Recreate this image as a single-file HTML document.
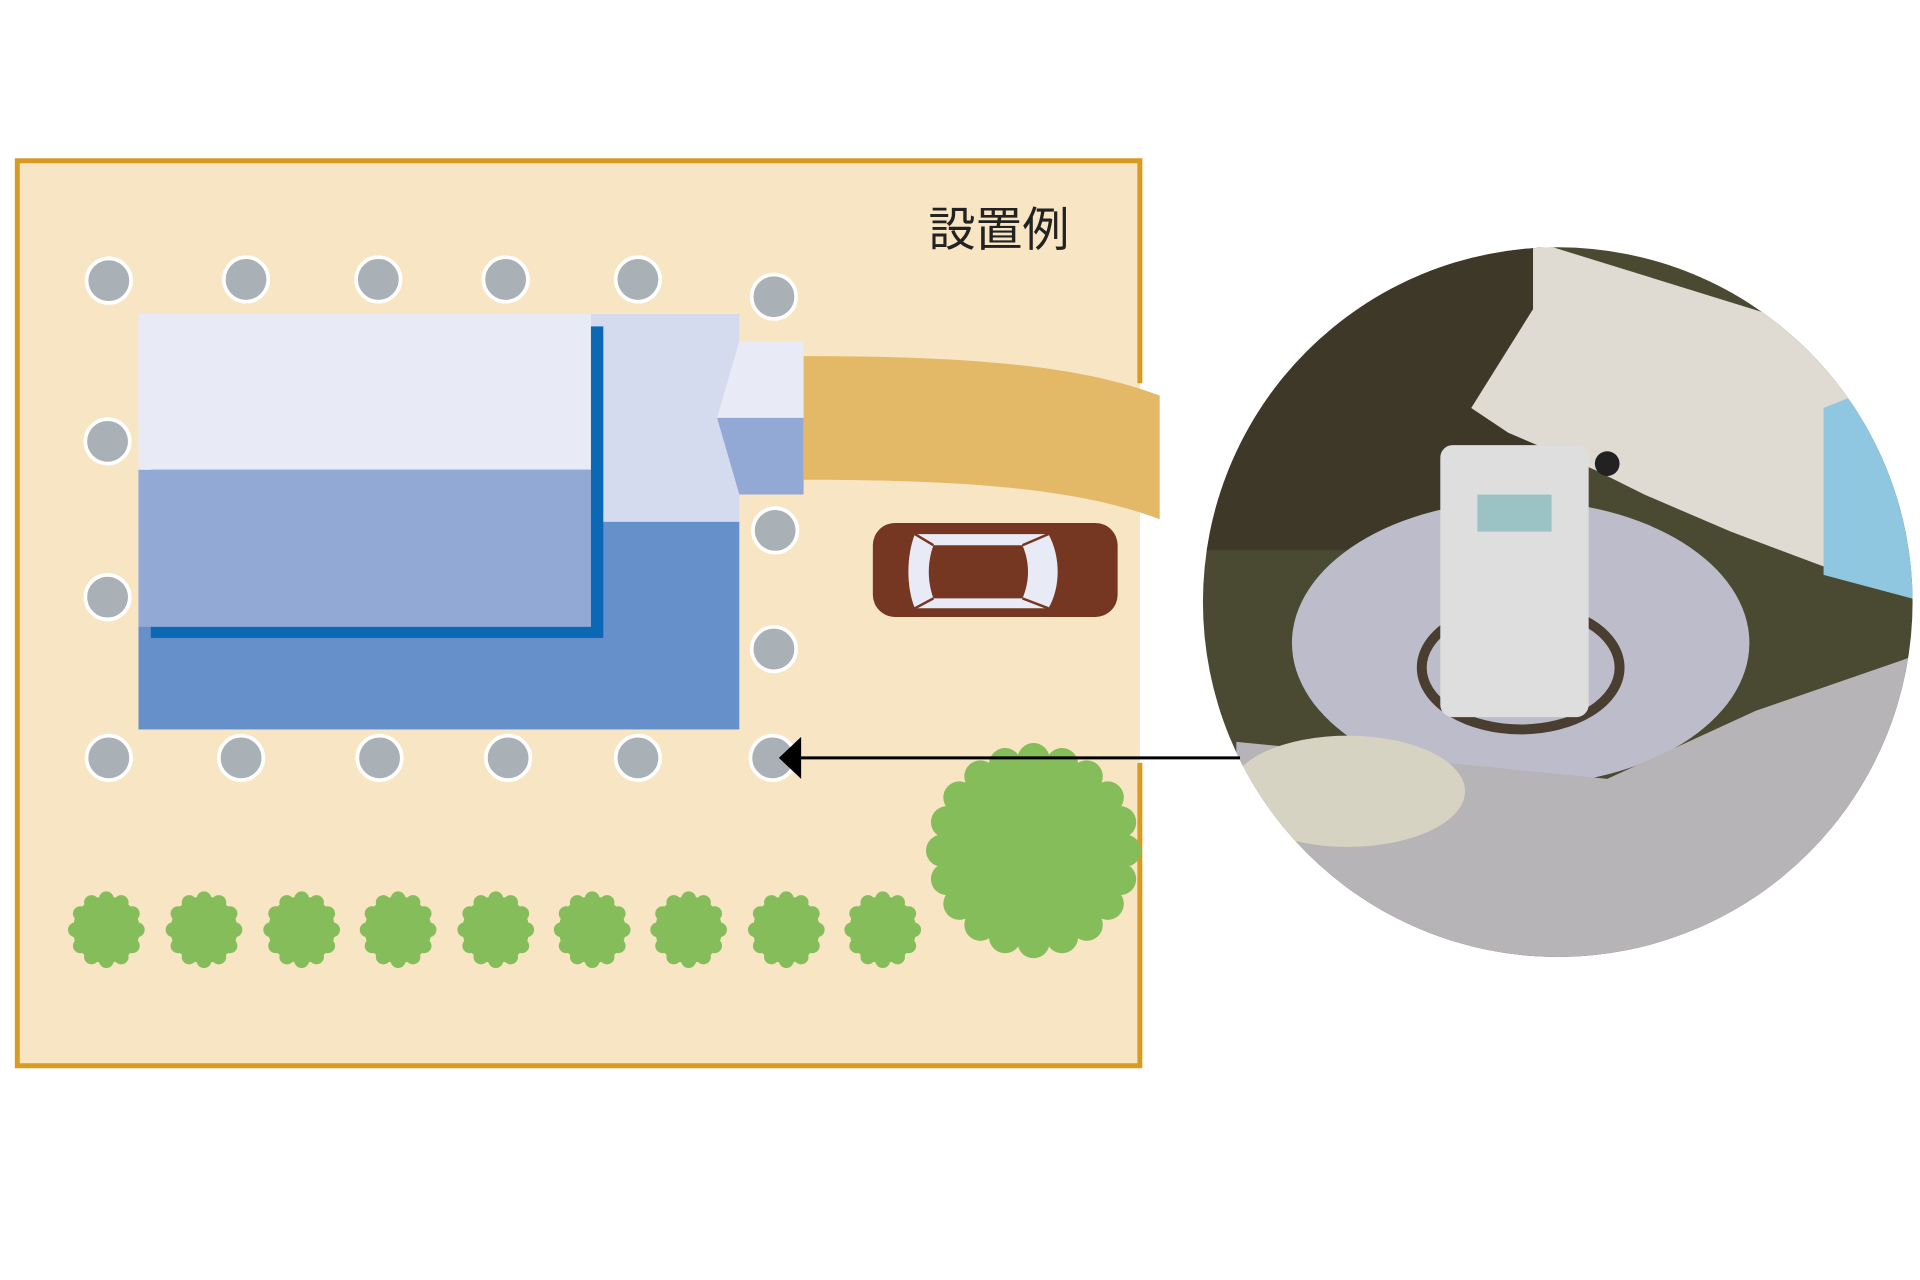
<!DOCTYPE html>
<html><head><meta charset="utf-8"><style>html,body{margin:0;padding:0;background:#fff}svg{display:block}</style></head>
<body>
<svg width="1920" height="1280" viewBox="0 0 1553 1035.3" preserveAspectRatio="none" xmlns="http://www.w3.org/2000/svg">
<defs>
<clipPath id="cp"><ellipse cx="1260" cy="487" rx="287" ry="287"/></clipPath>
<g id="st"><circle cx="0" cy="0" r="27"/><circle cx="0" cy="-25" r="6"/><circle cx="12" cy="-22" r="6"/><circle cx="21" cy="-13" r="6"/><circle cx="25" cy="0" r="6"/><circle cx="21" cy="13" r="6"/><circle cx="12" cy="22" r="6"/><circle cx="0" cy="25" r="6"/><circle cx="-12" cy="22" r="6"/><circle cx="-21" cy="13" r="6"/><circle cx="-25" cy="0" r="6"/><circle cx="-21" cy="-13" r="6"/><circle cx="-12" cy="-22" r="6"/></g>
</defs>
<rect x="14" y="130" width="908" height="732" fill="#f7e5c3"/>
<path d="M922,310 L922,130 L14,130 L14,862 L922,862 L922,617" fill="none" stroke="#d99a22" stroke-width="4"/>
<text x="751" y="199" font-family="'Noto Sans CJK JP',sans-serif" font-size="38" fill="#222">設置例</text>
<g fill="#a9b1b6" stroke="#fff" stroke-width="3">
<circle cx="88" cy="227" r="18"/><circle cx="199" cy="226" r="18"/><circle cx="306" cy="226" r="18"/><circle cx="409" cy="226" r="18"/><circle cx="516" cy="226" r="18"/><circle cx="626" cy="240" r="18"/>
<circle cx="87" cy="357" r="18"/><circle cx="87" cy="483" r="18"/><circle cx="627" cy="429" r="18"/><circle cx="626" cy="525" r="18"/>
<circle cx="88" cy="613" r="18"/><circle cx="195" cy="613" r="18"/><circle cx="307" cy="613" r="18"/><circle cx="411" cy="613" r="18"/><circle cx="516" cy="613" r="18"/><circle cx="625" cy="613" r="18"/>
</g>
<rect x="112" y="422" width="486" height="168" fill="#6690c9"/>
<rect x="478" y="254" width="120" height="168" fill="#d5dbee"/>
<rect x="122" y="264" width="366" height="252" fill="#0a68b4"/>
<rect x="112" y="254" width="366" height="126" fill="#e8ebf6"/>
<rect x="112" y="380" width="366" height="127" fill="#93a9d5"/>
<polygon points="598,276 650,276 650,338 580,338" fill="#e8ebf6"/>
<polygon points="580,338 650,338 650,400 598,400" fill="#93a9d5"/>
<path d="M650,288 C800,288 880,298 938,320 L938,420 C880,398 800,388 650,388 Z" fill="#e3b866"/>
<rect x="706" y="423" width="198" height="76" rx="18" fill="#763722"/>
<path d="M740,432 L848,432 C858,450 858,475 848,492 L740,492 C733,475 733,450 740,432 Z" fill="#e8ebf6"/>
<path d="M755,441 L827,441 C833,455 833,470 827,484 L755,484 C750,470 750,455 755,441 Z" fill="#763722"/>
<g stroke="#763722" stroke-width="2"><line x1="740" y1="432" x2="755" y2="441"/><line x1="848" y1="432" x2="827" y2="441"/><line x1="740" y1="492" x2="755" y2="484"/><line x1="848" y1="492" x2="827" y2="484"/></g>
<g fill="#84bd5a">
<use href="#st" x="86" y="752"/><use href="#st" x="165" y="752"/><use href="#st" x="244" y="752"/><use href="#st" x="322" y="752"/><use href="#st" x="401" y="752"/><use href="#st" x="479" y="752"/><use href="#st" x="557" y="752"/><use href="#st" x="636" y="752"/><use href="#st" x="714" y="752"/>
<g transform="translate(836,688)">
<circle r="76"/>
<circle cx="0" cy="-74" r="13"/><circle cx="23" cy="-70" r="13"/><circle cx="43" cy="-60" r="13"/><circle cx="60" cy="-43" r="13"/><circle cx="70" cy="-23" r="13"/><circle cx="74" cy="0" r="13"/><circle cx="70" cy="23" r="13"/><circle cx="60" cy="43" r="13"/><circle cx="43" cy="60" r="13"/><circle cx="23" cy="70" r="13"/><circle cx="0" cy="74" r="13"/><circle cx="-23" cy="70" r="13"/><circle cx="-43" cy="60" r="13"/><circle cx="-60" cy="43" r="13"/><circle cx="-70" cy="23" r="13"/><circle cx="-74" cy="0" r="13"/><circle cx="-70" cy="-23" r="13"/><circle cx="-60" cy="-43" r="13"/><circle cx="-43" cy="-60" r="13"/><circle cx="-23" cy="-70" r="13"/>
</g>
</g>
<g clip-path="url(#cp)">
<rect x="970" y="195" width="580" height="585" fill="#4a4a33"/>
<rect x="970" y="195" width="280" height="250" fill="#3e3828"/>
<polygon points="1240,195 1450,260 1500,320 1480,460 1400,430 1330,400 1290,380 1220,350 1190,330 1240,250" fill="#dfdbd2"/>
<polygon points="1475,330 1550,300 1550,485 1475,465" fill="#8fc6e0"/>
<ellipse cx="1230" cy="520" rx="185" ry="115" fill="#bcbccb"/>
<polygon points="1000,600 1300,630 1420,575 1550,530 1550,790 1000,790" fill="#b6b4b6"/>
<ellipse cx="1090" cy="640" rx="95" ry="45" fill="#d6d3c3"/>
<ellipse cx="1230" cy="540" rx="80" ry="50" fill="none" stroke="#4a3e30" stroke-width="8"/>
<rect x="1165" y="360" width="120" height="220" rx="10" fill="#dedede"/>
<rect x="1195" y="400" width="60" height="30" fill="#9bc2c4"/>
<circle cx="1300" cy="375" r="10" fill="#222"/>
</g>
<line x1="1003" y1="613" x2="645" y2="613" stroke="#000" stroke-width="2.5"/>
<polygon points="630,613 648,596 648,630" fill="#000"/>
</svg>
</body></html>
